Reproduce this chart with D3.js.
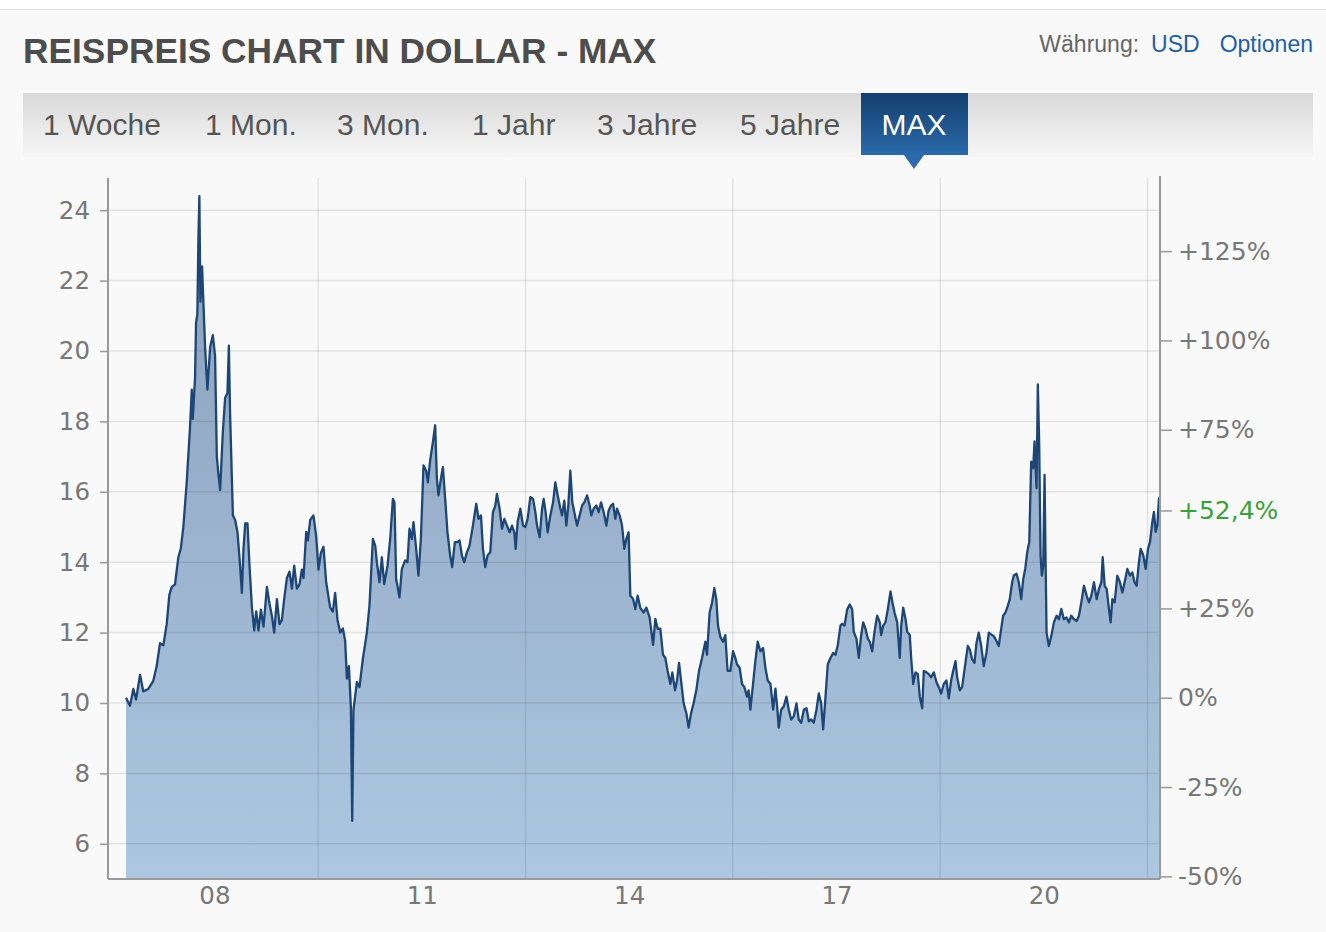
<!DOCTYPE html>
<html><head><meta charset="utf-8">
<script src="https://cdn.jsdelivr.net/npm/d3@7"></script>
<style>
html,body{margin:0;padding:0;background:#f9f9f9;}
svg{display:block;}
</style></head><body>
<svg id="c" width="1326" height="932"></svg>
<script>
// ---------- data ----------
const title = "REISPREIS CHART IN DOLLAR - MAX";
const currencyLabel = "Währung:";
const currency = "USD";
const optionsLabel = "Optionen";
const tabs = ["1 Woche","1 Mon.","3 Mon.","1 Jahr","3 Jahre","5 Jahre","MAX"];
const activeTab = "MAX";
const priceTicks = [6,8,10,12,14,16,18,20,22,24];
const pctTicks = [-0.5,-0.25,0,0.25,0.75,1.0,1.25];
const gridYears = [2010,2013,2016,2019,2022];
const labelYears = [2008,2011,2014,2017,2020];
const yearLabels = ["08","11","14","17","20"];

// decimal year of each observation
const years = [
2007.221,2007.279,2007.327,2007.366,2007.424,2007.471,2007.544,2007.616,2007.665,2007.713,
2007.761,2007.810,2007.848,2007.883,2007.930,2007.978,2008.013,2008.050,2008.100,2008.147,
2008.172,2008.187,2008.220,2008.234,2008.253,2008.268,2008.282,2008.297,2008.321,2008.340,
2008.365,2008.398,2008.437,2008.476,2008.509,2008.534,2008.557,2008.582,2008.621,2008.654,
2008.687,2008.708,2008.726,2008.766,2008.799,2008.832,2008.861,2008.896,2008.919,2008.944,
2008.977,2009.006,2009.041,2009.074,2009.103,2009.136,2009.171,2009.209,2009.258,2009.295,
2009.330,2009.363,2009.403,2009.440,2009.475,2009.508,2009.547,2009.585,2009.620,2009.653,
2009.692,2009.730,2009.764,2009.788,2009.827,2009.851,2009.885,2009.932,2009.971,2010.005,
2010.039,2010.077,2010.116,2010.174,2010.213,2010.246,2010.280,2010.319,2010.358,2010.391,
2010.416,2010.445,2010.474,2010.493,2010.511,2010.561,2010.598,
2010.647,2010.705,2010.743,2010.792,2010.826,2010.850,2010.888,2010.922,2010.956,2011.004,
2011.043,2011.082,2011.105,2011.129,2011.177,2011.212,2011.260,2011.293,2011.322,2011.357,
2011.380,2011.419,2011.452,2011.487,2011.525,2011.564,2011.588,2011.622,2011.661,2011.694,
2011.719,2011.742,2011.777,2011.806,2011.839,2011.872,2011.911,2011.940,2011.979,2012.017,
2012.046,2012.081,2012.114,2012.153,2012.191,2012.240,2012.288,2012.321,2012.356,2012.385,
2012.418,2012.451,2012.490,2012.529,2012.563,2012.587,2012.625,2012.660,2012.693,2012.732,
2012.770,2012.804,2012.838,2012.857,2012.885,2012.925,2012.964,2012.997,2013.030,2013.069,
2013.108,2013.142,2013.166,2013.204,2013.239,2013.262,2013.291,2013.320,2013.359,2013.398,
2013.431,2013.465,2013.504,2013.528,2013.561,2013.590,2013.619,2013.648,2013.677,2013.706,
2013.745,2013.783,2013.818,2013.851,2013.890,2013.928,2013.952,2013.986,2014.025,2014.058,
2014.093,2014.131,2014.170,2014.203,2014.238,2014.267,2014.300,2014.324,2014.362,2014.397,
2014.430,2014.459,2014.492,2014.517,2014.556,2014.589,2014.623,2014.662,
2014.710,2014.749,2014.796,2014.846,2014.879,2014.912,2014.951,2014.990,2015.024,2015.057,
2015.096,2015.125,2015.164,2015.193,2015.222,2015.251,2015.289,2015.328,2015.361,2015.396,
2015.433,2015.472,2015.511,2015.555,2015.603,2015.627,2015.665,2015.700,2015.733,2015.762,
2015.786,2015.820,2015.859,2015.892,2015.925,2015.964,2016.004,2016.037,2016.061,2016.099,
2016.134,2016.167,2016.206,2016.229,2016.254,2016.293,2016.326,2016.360,2016.399,2016.438,
2016.471,2016.505,2016.544,2016.583,2016.616,2016.641,2016.664,2016.699,2016.736,2016.775,
2016.809,2016.843,2016.881,2016.920,2016.953,2016.988,2017.026,2017.065,2017.098,2017.133,
2017.170,2017.209,2017.243,2017.277,2017.306,2017.340,2017.373,2017.412,2017.451,2017.485,
2017.518,2017.557,2017.581,2017.615,2017.654,2017.691,2017.726,2017.749,2017.788,2017.822,
2017.856,2017.885,2017.919,2017.952,2017.981,2018.016,2018.049,2018.088,2018.126,2018.146,
2018.175,2018.208,2018.242,2018.281,2018.310,2018.339,2018.378,2018.415,2018.436,2018.465,
2018.498,2018.523,2018.560,2018.580,2018.609,2018.643,2018.676,2018.705,2018.740,2018.763,
2018.802,2018.835,2018.870,2018.908,2018.947,2018.980,2019.014,2019.052,2019.091,2019.125,
2019.159,2019.188,2019.222,2019.246,2019.284,2019.318,
2019.366,2019.400,2019.429,2019.463,2019.497,2019.526,2019.559,2019.594,2019.631,2019.670,
2019.704,2019.738,2019.776,2019.815,2019.848,2019.883,2019.912,2019.945,2019.979,2020.008,
2020.042,2020.066,2020.105,2020.138,2020.173,2020.202,2020.231,2020.260,2020.289,2020.317,
2020.346,2020.365,2020.394,2020.413,2020.433,2020.452,2020.471,2020.491,2020.510,2020.525,
2020.539,2020.572,2020.607,2020.645,2020.684,2020.717,2020.752,2020.789,2020.828,2020.862,
2020.896,2020.934,2020.973,2021.007,2021.041,2021.079,2021.118,2021.151,2021.186,2021.224,
2021.263,2021.296,2021.331,2021.350,2021.379,2021.408,2021.441,2021.465,2021.490,2021.523,
2021.562,2021.600,2021.635,2021.668,2021.707,2021.745,2021.779,2021.812,2021.841,2021.875,
2021.900,2021.939,2021.972,2022.006,2022.035,2022.069,2022.092,2022.117,2022.142,2022.165,
2022.175
];
// rice price, USD
const prices = [
10.15,9.92,10.4,10.1,10.8,10.33,10.4,10.63,11.05,11.7,
11.64,12.24,13.07,13.3,13.37,14.14,14.38,14.98,16.29,17.83,
18.9,18.07,19.26,20.8,21.05,23.2,24.4,21.4,22.4,21.4,
20.1,18.9,20.1,20.45,19.86,17.0,16.5,16.05,17.7,18.67,
18.8,20.15,18.2,15.33,15.2,14.86,14.14,13.13,14.38,15.1,
15.1,13.9,12.71,12.06,12.6,12.06,12.65,12.17,13.3,12.83,
12.48,12.0,12.95,12.24,12.36,12.95,13.55,13.73,13.25,13.9,
13.25,13.37,13.79,13.55,14.86,14.62,15.2,15.33,14.74,13.79,
14.26,14.44,13.43,12.71,12.6,13.13,12.36,12.0,12.12,11.76,
10.69,11.05,9.86,6.65,9.8,10.6,10.45,
11.25,12.0,12.77,14.66,14.47,14.0,13.43,14.14,13.38,13.9,
14.66,15.8,15.7,13.53,13.0,13.81,14.05,14.0,14.95,14.66,
15.14,14.38,13.62,14.66,16.75,16.6,16.27,16.9,17.41,17.89,
16.37,15.9,16.37,16.7,15.8,14.85,14.19,13.86,14.57,14.57,
14.62,14.19,14.0,14.28,14.47,15.04,15.66,15.23,15.33,14.38,
13.86,14.19,14.28,15.42,15.6,15.94,15.52,14.95,15.23,15.04,
14.85,15.04,14.85,14.38,15.14,15.52,15.04,15.0,15.23,15.85,
15.8,15.42,15.04,14.71,15.52,15.8,15.42,14.85,15.33,15.7,
16.27,15.9,15.52,15.33,15.75,15.04,15.61,16.6,15.7,15.42,
15.04,15.33,15.61,15.7,15.9,15.61,15.33,15.52,15.61,15.42,
15.7,15.42,15.04,15.47,15.61,15.66,15.23,15.52,15.33,15.04,
14.38,14.66,14.85,13.05,12.96,12.67,13.05,12.7,
12.57,12.71,12.43,11.65,12.39,12.11,12.11,11.37,11.28,10.91,
10.54,10.87,10.36,10.64,11.14,10.64,9.99,9.71,9.3,9.71,
9.99,10.36,10.91,11.28,11.74,11.37,12.57,12.85,13.26,12.94,
12.2,11.88,11.74,11.93,10.91,10.91,11.47,11.28,11.1,11.0,
10.54,10.45,10.18,10.36,9.81,10.54,11.19,11.74,11.47,11.56,
11.0,10.64,10.54,9.81,10.41,9.9,9.3,9.81,9.9,10.18,
9.81,9.53,9.62,9.99,9.53,9.44,9.81,9.85,9.48,9.53,
9.44,9.81,10.27,9.99,9.25,10.18,11.1,11.28,11.42,11.37,
11.65,12.2,12.25,12.2,12.66,12.8,12.66,12.02,11.83,11.28,
11.93,12.29,12.11,11.83,11.74,11.47,12.02,12.48,12.29,11.93,
12.2,12.29,12.66,13.17,12.85,12.57,12.29,11.28,12.2,12.71,
12.39,12.02,11.93,11.28,10.54,10.87,10.82,10.18,9.85,10.91,
10.87,10.82,10.73,10.87,10.59,10.45,10.27,10.54,10.64,10.13,
10.64,10.91,11.19,10.73,10.36,10.45,
11.14,11.62,11.52,11.24,11.14,11.71,12.0,11.62,11.05,11.43,
12.0,11.95,11.9,11.76,11.62,12.1,12.48,12.57,12.76,12.95,
13.43,13.62,13.67,13.43,12.95,13.52,13.81,14.29,14.57,16.86,
16.67,17.43,16.1,19.05,17.33,14.19,13.62,13.9,16.48,14.0,
12.0,11.62,11.9,12.29,12.48,12.38,12.67,12.38,12.43,12.29,
12.48,12.38,12.33,12.48,12.86,13.33,13.05,12.86,13.05,13.43,
12.95,13.24,13.43,14.14,13.33,13.24,12.67,12.29,12.95,12.86,
13.62,13.43,13.14,13.43,13.81,13.62,13.71,13.43,13.33,14.0,
14.38,14.19,13.81,14.38,14.57,15.14,15.43,14.86,15.05,15.81,
15.47
];

// ---------- helpers ----------
function toDate(y){
  const yr = Math.floor(y);
  const s = Date.UTC(yr,0,1), e = Date.UTC(yr+1,0,1);
  return new Date(s + (y-yr)*(e-s));
}
const data = years.map((yv,i)=>({date:toDate(yv), v:prices[i]}));
const first = prices[0], last = prices[prices.length-1];
const lastPct = last/first - 1;

// ---------- layout ----------
const L = 108, R = 1160, T = 178, B = 879;
const svg = d3.select("#c");
const x = d3.scaleTime().domain([toDate(2006.96), toDate(2022.18)]).range([L, R]);
const y = d3.scaleLinear().domain([5, 25]).range([B, 175]);
const yPct = d3.scaleLinear().domain([5/first - 1, 25/first - 1]).range([B, 175]);

const defs = svg.append("defs");
const ag = defs.append("linearGradient").attr("id","areaG")
  .attr("gradientUnits","userSpaceOnUse").attr("x1",0).attr("x2",0).attr("y1",190).attr("y2",B);
ag.append("stop").attr("offset","0%").attr("stop-color","#899fba");
ag.append("stop").attr("offset","100%").attr("stop-color","#adc7e1");
const tg = defs.append("linearGradient").attr("id","tabG").attr("x1",0).attr("x2",0).attr("y1",0).attr("y2",1);
tg.append("stop").attr("offset","0%").attr("stop-color","#d9d9d9");
tg.append("stop").attr("offset","100%").attr("stop-color","#f6f6f6");
const mg = defs.append("linearGradient").attr("id","maxG").attr("x1",0).attr("x2",0).attr("y1",0).attr("y2",1);
mg.append("stop").attr("offset","0%").attr("stop-color","#143f6e");
mg.append("stop").attr("offset","100%").attr("stop-color","#2b6aab");

// page top
svg.append("rect").attr("x",0).attr("y",0).attr("width",1326).attr("height",9).attr("fill","#ffffff");
svg.append("line").attr("x1",0).attr("x2",1326).attr("y1",9.5).attr("y2",9.5).attr("stroke","#e4e4e4");

// title
svg.append("text").attr("x",23).attr("y",63).text(title)
  .attr("font-family","'Liberation Sans', Arial, sans-serif").attr("font-weight","bold")
  .attr("font-size",35.3).attr("fill","#4d4d4d");

const hdr = svg.append("text").attr("x",1313).attr("y",52).attr("text-anchor","end")
  .attr("font-family","'Liberation Sans', Arial, sans-serif").attr("font-size",23);
hdr.append("tspan").attr("fill","#666").text(currencyLabel);
hdr.append("tspan").attr("fill","#1f5fa6").attr("dx",12).text(currency);
hdr.append("tspan").attr("fill","#1f5fa6").attr("dx",20).text(optionsLabel);

// tab bar
svg.append("rect").attr("x",23).attr("y",93).attr("width",1290).attr("height",64).attr("fill","url(#tabG)");
const tabX = [43,205,337,472,597,740,914];
tabs.forEach((t,i)=>{
  const active = t===activeTab;
  if(active){
    svg.append("rect").attr("x",861).attr("y",93).attr("width",107).attr("height",62).attr("fill","url(#maxG)");
    svg.append("path").attr("d","M904,155 L924,155 L914,169 Z").attr("fill","#2b6aab");
  }
  svg.append("text").attr("x",tabX[i]).attr("y",135)
    .attr("text-anchor", active ? "middle" : "start")
    .attr("font-family","'Liberation Sans', Arial, sans-serif").attr("font-size",30)
    .attr("fill", active ? "#ffffff" : "#555").text(t);
});

// area + line
svg.append("path").datum(data).attr("fill","url(#areaG)")
  .attr("d", d3.area().x(d=>x(d.date)).y0(B).y1(d=>y(d.v)));

// grid
const grid = svg.append("g").attr("stroke","rgba(0,0,0,0.09)").attr("stroke-width",1.5);
grid.selectAll(".h").data(priceTicks).join("line")
  .attr("x1",L).attr("x2",R).attr("y1",d=>y(d)).attr("y2",d=>y(d));
grid.selectAll(".v").data(gridYears).join("line")
  .attr("x1",d=>x(toDate(d))).attr("x2",d=>x(toDate(d))).attr("y1",T).attr("y2",B);

svg.append("path").datum(data).attr("fill","none").attr("stroke","#1d4676")
  .attr("stroke-width",2.3).attr("stroke-linejoin","round")
  .attr("d", d3.line().x(d=>x(d.date)).y(d=>y(d.v)));

// axes
const axisFont = "'DejaVu Sans', Verdana, sans-serif";
const axCol = "#9a9a9a", txtCol = "#777";
svg.append("line").attr("x1",L).attr("x2",L).attr("y1",T).attr("y2",B).attr("stroke",axCol).attr("stroke-width",2);
svg.append("line").attr("x1",R).attr("x2",R).attr("y1",176).attr("y2",B).attr("stroke",axCol).attr("stroke-width",2);
svg.append("line").attr("x1",L).attr("x2",R).attr("y1",B).attr("y2",B).attr("stroke",axCol).attr("stroke-width",2);

const gl = svg.append("g").attr("transform",`translate(${L},0)`)
  .call(d3.axisLeft(y).tickValues(priceTicks).tickSize(8).tickSizeOuter(0).tickPadding(10).tickFormat(d3.format("d")));
gl.select(".domain").remove();
gl.selectAll(".tick line").attr("stroke",axCol).attr("stroke-width",1.5);
gl.selectAll(".tick text").attr("font-family",axisFont).attr("font-size",24.5).attr("fill",txtCol);

const fmtPct = p => {
  const v = Math.round(p*1000)/10;
  const s = (Math.abs(v - Math.round(v))<1e-9 ? String(Math.round(v)) : v.toFixed(1)).replace(".",",");
  return (v>0 ? "+" : "") + s + "%";
};
const gr = svg.append("g").attr("transform",`translate(${R},0)`)
  .call(d3.axisRight(yPct).tickValues(pctTicks.concat([lastPct])).tickSize(12).tickSizeOuter(0).tickPadding(6).tickFormat(fmtPct));
gr.select(".domain").remove();
gr.selectAll(".tick line").attr("stroke",axCol).attr("stroke-width",1.5);
gr.selectAll(".tick text").attr("font-family",axisFont).attr("font-size",25).attr("fill", d => d===lastPct ? "#3aa13a" : txtCol);

const gb = svg.append("g").attr("transform",`translate(0,${B})`)
  .call(d3.axisBottom(x).tickValues(labelYears.map(yv=>toDate(yv+0.5))).tickSize(0).tickPadding(8)
    .tickFormat((d,i)=>yearLabels[i]));
gb.select(".domain").remove();
gb.selectAll(".tick text").attr("font-family",axisFont).attr("font-size",24.5).attr("fill",txtCol);
</script>
</body></html>
